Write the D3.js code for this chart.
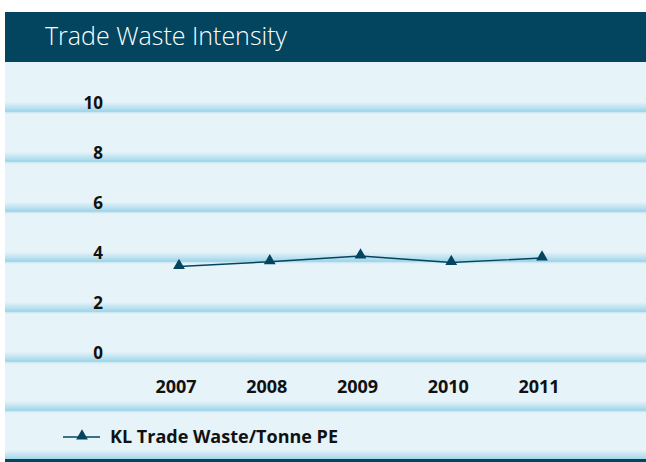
<!DOCTYPE html>
<html lang="en">
<head>
<meta charset="utf-8">
<title>Trade Waste Intensity</title>
<style>
  body { margin: 0; background: #fff; }
  text { font-family: "Open Sans", "Noto Sans", sans-serif; }
</style>
</head>
<body>
<script src="https://d3js.org/d3.v7.min.js"></script>
<div id="chart"></div>
<script>
// data
var years = [2007, 2008, 2009, 2010, 2011];
var intensity = [3.78, 3.97, 4.2, 3.94, 4.12];
var yTicks = [0, 2, 4, 6, 8, 10];
var seriesName = "KL Trade Waste/Tonne PE";
var title = "Trade Waste Intensity";

var W = 646, H = 462;
var dark = "#03455e", bg = "#e6f3f9", band = "#a3d7ea";

var svg = d3.select("#chart").append("svg")
  .attr("width", W).attr("height", H);

var defs = svg.append("defs");
var g1 = defs.append("linearGradient").attr("id", "bandGrad")
  .attr("x1", 0).attr("y1", 0).attr("x2", 0).attr("y2", 1);
g1.append("stop").attr("offset", "0%").attr("stop-color", bg);
g1.append("stop").attr("offset", "100%").attr("stop-color", band);

var g2 = defs.append("linearGradient").attr("id", "lowGrad")
  .attr("x1", 0).attr("y1", 0).attr("x2", 0).attr("y2", 1);
g2.append("stop").attr("offset", "0%").attr("stop-color", band);
g2.append("stop").attr("offset", "100%").attr("stop-color", bg);

// panel + header
svg.append("rect").attr("x", 5).attr("y", 62).attr("width", W - 5).attr("height", 398).attr("fill", bg);
svg.append("rect").attr("x", 5).attr("y", 12).attr("width", W - 5).attr("height", 50).attr("fill", dark);
svg.append("text")
  .attr("x", 45).attr("y", 45)
  .attr("font-size", "25px").attr("font-weight", 300)
  .attr("fill", "#fff")
  .text(title);

var x = d3.scaleLinear().domain([2007, 2011]).range([179, 542]);
var y = d3.scaleLinear().domain([0, 10]).range([361, 111]);

function drawBand(yy) {
  svg.append("rect").attr("x", 5).attr("y", yy - 9).attr("width", W - 5).attr("height", 9)
    .attr("fill", "url(#bandGrad)");
  svg.append("rect").attr("x", 5).attr("y", yy - 1).attr("width", W - 5).attr("height", 2)
    .attr("fill", band);
  svg.append("rect").attr("x", 5).attr("y", yy + 1).attr("width", W - 5).attr("height", 2)
    .attr("fill", "url(#lowGrad)").attr("opacity", 0.5);
}

yTicks.forEach(function(t) { drawBand(y(t)); });
drawBand(410);

// bottom rule
svg.append("rect").attr("x", 5).attr("y", 450).attr("width", W - 5).attr("height", 9)
  .attr("fill", "url(#bandGrad)");
svg.append("rect").attr("x", 5).attr("y", 459).attr("width", W - 5).attr("height", 3)
  .attr("fill", dark);

// y labels
svg.selectAll(".ylab").data(yTicks).enter().append("text")
  .attr("class", "ylab")
  .attr("x", 103).attr("y", function(d) { return y(d) - 2; })
  .attr("text-anchor", "end")
  .attr("font-size", "17px").attr("font-weight", "bold")
  .attr("fill", "#111")
  .text(function(d) { return d; });

// x labels
svg.selectAll(".xlab").data(years).enter().append("text")
  .attr("class", "xlab")
  .attr("x", function(d) { return x(d) - 3; }).attr("y", 393)
  .attr("text-anchor", "middle")
  .attr("font-size", "18px").attr("font-weight", "bold")
  .attr("fill", "#111")
  .text(function(d) { return d; });

// series
var pts = years.map(function(yr, i) { return [yr, intensity[i]]; });
var line = d3.line().x(function(d) { return x(d[0]); }).y(function(d) { return y(d[1]); });
svg.append("path").datum(pts)
  .attr("d", line)
  .attr("fill", "none").attr("stroke", dark).attr("stroke-width", 1.4);

var tri = d3.symbol().type(d3.symbolTriangle).size(60);
svg.selectAll(".pt").data(pts).enter().append("path")
  .attr("class", "pt")
  .attr("d", tri)
  .attr("transform", function(d) { return "translate(" + x(d[0]) + "," + (y(d[1]) - 1) + ")"; })
  .attr("fill", dark);

// legend
svg.append("line").attr("x1", 63).attr("x2", 100).attr("y1", 437).attr("y2", 437)
  .attr("stroke", dark).attr("stroke-width", 1.4);
svg.append("path").attr("d", tri).attr("transform", "translate(82,436)").attr("fill", dark);
svg.append("text")
  .attr("x", 110).attr("y", 443)
  .attr("font-size", "18px").attr("font-weight", "bold")
  .attr("fill", "#111")
  .text(seriesName);
</script>
</body>
</html>
